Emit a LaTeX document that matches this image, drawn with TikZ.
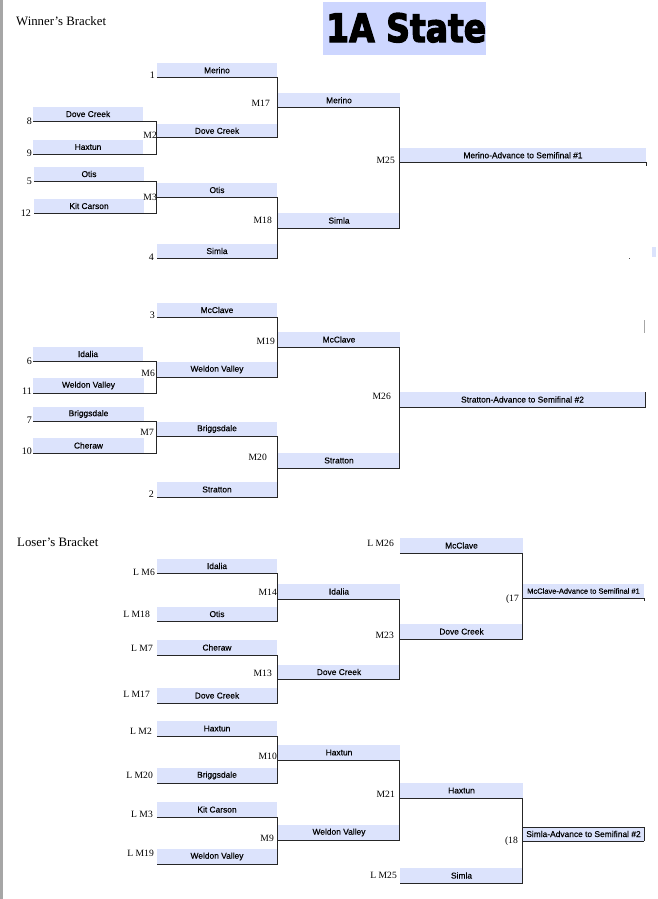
\documentclass[tikz,border=0pt]{standalone}
\usepackage{fontspec}
\setmainfont{Liberation Serif}
\setsansfont{Liberation Sans}
\newfontfamily\titlefont{DejaVu Sans Bold}[FakeBold=3.5]
\newfontfamily\slotfont{Liberation Sans}[FakeBold=0.35]
\definecolor{slotblue}{RGB}{220,227,252}
\definecolor{titleblue}{RGB}{205,214,255}
\tikzset{
  slot/.style={fill=slotblue, inner sep=0pt, text=black, font=\slotfont\fontsize{8.4}{9}\selectfont},
  bline/.style={draw=black!85, line width=1.1pt},
  lab/.style={inner sep=0pt, font=\fontsize{9.6}{10}\selectfont},
  seed/.style={inner sep=0pt, font=\fontsize{10}{11}\selectfont},
  head/.style={inner sep=0pt, font=\fontsize{12.8}{14}\selectfont}
}
\newcommand\tslot[6]{\node[slot, minimum width={(#4-#2)*1pt}, minimum height={(#5-#3)*1pt}] (#1) at ({(#2+#4)/2},{(#3+#5)/2}) {#6};}
\newcommand\tmatch[3]{\draw[bline] (#1.south west) -| (#3.south west) |- (#2.south west);}
\begin{document}
\begin{tikzpicture}[x=1pt,y=-1pt]
\useasboundingbox (0,0) rectangle (657,899);
\fill[white] (0,0) rectangle (657,899);
\fill[black!35] (0,0) rectangle (3,899);

% title
\node[fill=titleblue, minimum width=163pt, minimum height=53pt, inner sep=0pt] (titlebox) at (404.5,28.5) {};
\node[anchor=base west, inner sep=0pt] (title) at (326,42) {\resizebox{160pt}{29pt}{\titlefont 1A State}};

\node[head, anchor=base west] (wbh) at (16,26) {Winner’s Bracket};
\node[head, anchor=base west] (lbh) at (17,546) {Loser’s Bracket};

% ---------- Winner's bracket, top half
\tslot{wa1}{157}{63}{277}{77.5}{Merino}
\tslot{wa8}{33}{107}{143}{121}{Dove Creek}
\tslot{wa9}{33}{140}{143}{154}{Haxtun}
\tslot{wm2}{157}{124}{277}{137.5}{Dove Creek}
\tslot{wa5}{34}{167}{144}{181}{Otis}
\tslot{wa12}{34}{199}{144}{213}{Kit Carson}
\tslot{wm3}{157}{183}{277}{197}{Otis}
\tslot{wa4}{157}{244}{277}{258}{Simla}
\tslot{wm17}{278}{93}{400}{107.5}{Merino}
\tslot{wm18}{278}{213}{400}{228}{Simla}
\tslot{wm25}{400}{148}{646}{162.5}{Merino-Advance to Semifinal \#1}

\tmatch{wa8}{wa9}{wm2}
\tmatch{wa5}{wa12}{wm3}
\tmatch{wa1}{wm2}{wm17}
\tmatch{wm3}{wa4}{wm18}
\tmatch{wm17}{wm18}{wm25}
\draw[bline] (wm25.south west) -- (wm25.south east) -- ++(0,3);

\node[seed, anchor=base east] (n1) at (155,78) {1};
\node[seed, anchor=base east] (n8) at (32,124) {8};
\node[seed, anchor=base east] (n9) at (32,156) {9};
\node[seed, anchor=base east] (n5) at (32,184) {5};
\node[seed, anchor=base east] (n12) at (31,216) {12};
\node[seed, anchor=base east] (n4) at (154,260) {4};
\node[lab, anchor=base east] (lm2) at (157,138) {M2};
\node[lab, anchor=base east] (lm3) at (157,200) {M3};
\node[lab, anchor=base east] (lm17) at (270,106) {M17};
\node[lab, anchor=base east] (lm18) at (272,223) {M18};
\node[lab, anchor=base east] (lm25) at (395,163) {M25};

% ---------- Winner's bracket, bottom half
\tslot{wb3}{157}{303}{277}{317}{McClave}
\tslot{wb6}{33}{347}{143}{361}{Idalia}
\tslot{wb11}{33}{378}{144}{393}{Weldon Valley}
\tslot{wm6}{157}{362}{277}{377}{Weldon Valley}
\tslot{wb7}{33}{407}{144}{421}{Briggsdale}
\tslot{wb10}{33}{438}{144}{453}{Cheraw}
\tslot{wm7}{157}{422}{277}{436}{Briggsdale}
\tslot{wb2}{157}{482}{277}{497}{Stratton}
\tslot{wm19}{278}{332}{400}{347}{McClave}
\tslot{wm20}{278}{453}{400}{468}{Stratton}
\tslot{wm26}{400}{392}{645}{407}{Stratton-Advance to Semifinal \#2}

\tmatch{wb6}{wb11}{wm6}
\tmatch{wb7}{wb10}{wm7}
\tmatch{wb3}{wm6}{wm19}
\tmatch{wm7}{wb2}{wm20}
\tmatch{wm19}{wm20}{wm26}
\draw[bline] (wm26.south west) -- (wm26.south east) -- (wm26.north east);

\node[seed, anchor=base east] (n3) at (155,318) {3};
\node[seed, anchor=base east] (n6) at (32,364) {6};
\node[seed, anchor=base east] (n11) at (32,394) {11};
\node[seed, anchor=base east] (n7) at (32,423) {7};
\node[seed, anchor=base east] (n10) at (32,454) {10};
\node[seed, anchor=base east] (n2) at (154,497) {2};
\node[lab, anchor=base east] (lm6) at (155,376) {M6};
\node[lab, anchor=base east] (lm7) at (154,435) {M7};
\node[lab, anchor=base east] (lm19) at (275,344) {M19};
\node[lab, anchor=base east] (lm20) at (267,460) {M20};
\node[lab, anchor=base east] (lm26) at (391,399) {M26};

% ---------- Loser's bracket, top half
\tslot{la6}{157}{559}{277}{573}{Idalia}
\tslot{la18}{157}{607}{277}{621}{Otis}
\tslot{la7}{157}{640}{277}{655}{Cheraw}
\tslot{la17}{157}{688}{277}{703}{Dove Creek}
\tslot{lm14}{278}{584}{400}{599}{Idalia}
\tslot{lm13}{278}{665}{400}{679}{Dove Creek}
\tslot{la26}{400}{538}{523}{553}{McClave}
\tslot{lm23}{400}{624}{523}{639}{Dove Creek}
\node[slot, font=\slotfont\fontsize{7.5}{8}\selectfont, minimum width=121pt, minimum height=14pt] (lm17f) at (583.5,591) {McClave-Advance to Semifinal \#1};

\tmatch{la6}{la18}{lm14}
\tmatch{la7}{la17}{lm13}
\tmatch{lm14}{lm13}{lm23}
\tmatch{la26}{lm23}{lm17f}
\draw[bline] (lm17f.south west) -- (lm17f.south east) -- ++(0,2.5);

\node[lab, anchor=base east] (llm6) at (155,575) {L M6};
\node[lab, anchor=base east] (llm18) at (150,617) {L M18};
\node[lab, anchor=base east] (llm7) at (153,651) {L M7};
\node[lab, anchor=base east] (llm17) at (150,697) {L M17};
\node[lab, anchor=base east] (lm14l) at (277,595) {M14};
\node[lab, anchor=base east] (lm13l) at (272,676) {M13};
\node[lab, anchor=base east] (llm26) at (394,546) {L M26};
\node[lab, anchor=base east] (lm23l) at (394,638) {M23};
\node[lab, anchor=base east] (l17) at (519,601) {(17};

% ---------- Loser's bracket, bottom half
\tslot{la2}{157}{721}{277}{736}{Haxtun}
\tslot{la20}{157}{768}{277}{783}{Briggsdale}
\tslot{la3}{157}{802}{277}{817}{Kit Carson}
\tslot{la19}{157}{849}{277}{864}{Weldon Valley}
\tslot{lm10}{278}{745}{400}{760}{Haxtun}
\tslot{lm9}{278}{825}{400}{840}{Weldon Valley}
\tslot{lm21}{400}{783}{523}{798}{Haxtun}
\tslot{la25}{400}{868}{523}{883}{Simla}
\tslot{lm18f}{523}{827}{644}{841}{Simla-Advance to Semifinal \#2}

\tmatch{la2}{la20}{lm10}
\tmatch{la3}{la19}{lm9}
\tmatch{lm10}{lm9}{lm21}
\tmatch{lm21}{la25}{lm18f}
\draw[black!85, line width=0.6pt] (lm18f.north west) -- (lm18f.north east) -- (lm18f.south east);
\draw[bline] (lm18f.south west) -- (lm18f.south east);

\node[lab, anchor=base east] (llm2) at (152,734) {L M2};
\node[lab, anchor=base east] (llm20) at (153,778) {L M20};
\node[lab, anchor=base east] (llm3) at (153,817) {L M3};
\node[lab, anchor=base east] (llm19) at (154,856) {L M19};
\node[lab, anchor=base east] (lm10l) at (277,759) {M10};
\node[lab, anchor=base east] (lm9l) at (274,841) {M9};
\node[lab, anchor=base east] (lm21l) at (395,797) {M21};
\node[lab, anchor=base east] (llm25) at (397,878) {L M25};
\node[lab, anchor=base east] (l18) at (518,843) {(18};

% stray marks at the right edge
\fill[slotblue] (652,247) rectangle (656,257);
\fill[black!70] (628.5,257.5) rectangle (629.5,258.5);
\draw[black!35, line width=0.6pt] (644,320) -- (644,333);
\end{tikzpicture}
\end{document}
